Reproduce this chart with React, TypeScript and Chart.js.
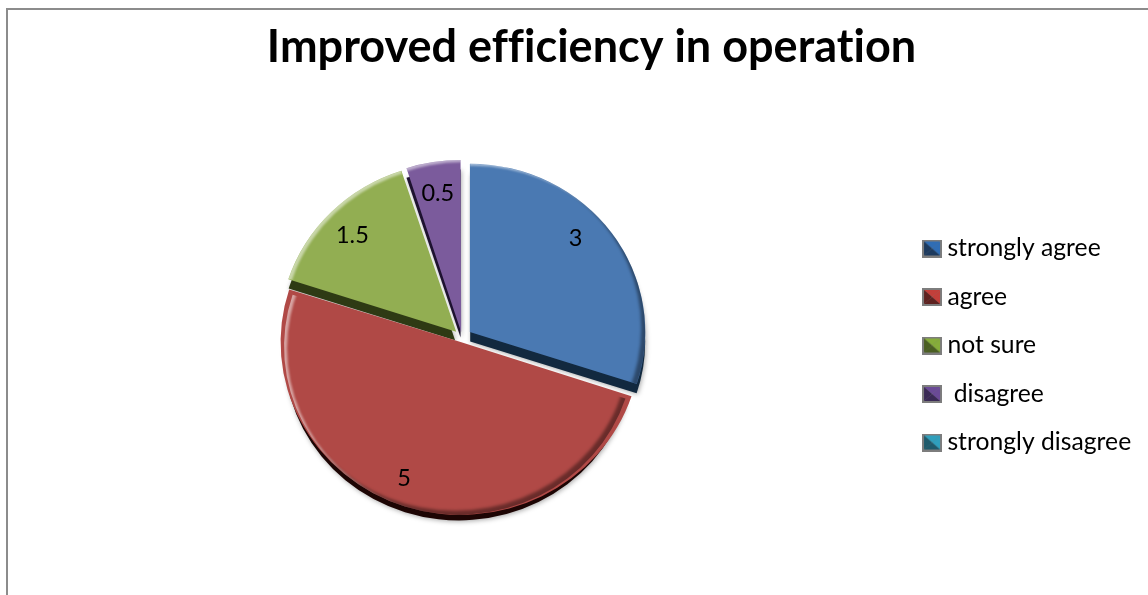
import React, { useEffect, useRef } from "react";
import { Chart, registerables } from "chart.js";

Chart.register(...registerables);

const categories = ["strongly agree", "agree", "not sure", " disagree", "strongly disagree"];
const responses = [3, 5, 1.5, 0.5, 0];
const faceColors = ["#4a79b2", "#b04946", "#92ae52", "#7b5b9c", "#4bacc6"];
const sideColors = ["#12293f", "#1d0504", "#2e3a14", "#1e1230", "#123f4c"];
const swatchLight = ["#2f6db5", "#c23f3a", "#86ad3a", "#6a4a96", "#2fa0bd"];
const swatchDark = ["#1d3a5e", "#5e2220", "#4a5e22", "#3a2a55", "#1f5a6b"];
const chartTitle = "Improved efficiency in operation";

const SLICE_OFFSET = 10;
const SLAB_DEPTH = 10;
const FRONT_SLAB_DEPTH = 6;
const TILT = 0.96;
const SLICE_RADIUS = 175;
const LABEL_RADIUS = 0.83;
const LABEL_DROP = 3;
const LABEL_TURN_DEG = [-7, 4, 0, 0, 0];
const TITLE_SHIFT = 11.5;
const LEGEND_DROP = 44;

// ArcElement displaces a slice by offset / 4 * (2 - sin(circumference)), so invert
// that here to give every slice the same explosion distance.
function explodeOption(value: number) {
  const total = responses.reduce((a, b) => a + b, 0);
  const sweep = (value / total) * Math.PI * 2;
  const fix = 1 - Math.sin(Math.min(Math.PI, sweep));
  return (SLICE_OFFSET * 4) / (1 + fix);
}

function makeSwatch(i: number) {
  const c = document.createElement("canvas");
  c.width = 20;
  c.height = 18;
  const g = c.getContext("2d")!;
  g.fillStyle = "#7d7d7d";
  g.fillRect(0, 0, 20, 18);
  const l = 2, t = 2, r = 18, b = 16, mx = 10, my = 9;
  const tri = (pts: number[], color: string) => {
    g.fillStyle = color;
    g.beginPath();
    g.moveTo(pts[0], pts[1]);
    g.lineTo(pts[2], pts[3]);
    g.lineTo(mx, my);
    g.closePath();
    g.fill();
  };
  tri([l, t, r, t], swatchLight[i]);
  tri([l, t, l, b], swatchDark[i]);
  tri([r, t, r, b], swatchLight[i]);
  tri([l, b, r, b], swatchDark[i]);
  return c;
}

function sliceCentre(arc: any) {
  const mid = (arc.startAngle + arc.endAngle) / 2;
  return { cx: arc.x + Math.cos(mid) * SLICE_OFFSET, cy: arc.y + Math.sin(mid) * SLICE_OFFSET };
}

function sector(ctx: CanvasRenderingContext2D, arc: any, dy = 0) {
  const { cx, cy } = sliceCentre(arc);
  ctx.moveTo(cx, cy + dy);
  ctx.arc(cx, cy + dy, arc.outerRadius, arc.startAngle, arc.endAngle);
  ctx.closePath();
}

function tilt(ctx: CanvasRenderingContext2D, arc: any) {
  ctx.translate(arc.x, arc.y);
  ctx.scale(1, TILT);
  ctx.translate(-arc.x, -arc.y);
}

// Gray frame running off the canvas edges; nudges title and legend into place.
const framePlugin = {
  id: "frame",
  beforeInit(chart: any) {
    chart.ctx.letterSpacing = "0.01px";
  },
  beforeDraw(chart: any) {
    const { ctx, width, height } = chart;
    ctx.letterSpacing = "0.01px";
    ctx.save();
    ctx.strokeStyle = "#8c8c8c";
    ctx.lineWidth = 2;
    ctx.strokeRect(7, 9, width + 20, height + 20);
    ctx.restore();
  },
  afterLayout(chart: any) {
    chart.titleBlock.left += TITLE_SHIFT;
    chart.titleBlock.right += TITLE_SHIFT;
    chart.legend.top += LEGEND_DROP;
    chart.legend.bottom += LEGEND_DROP;
  },
};

// Extruded side walls and soft drop shadow under the slices, bevel on the rims.
const slabPlugin = {
  id: "slab",
  beforeDatasetsDraw(chart: any) {
    const { ctx } = chart;
    const arcs = chart.getDatasetMeta(0).data;
    arcs.forEach((arc: any, i: number) => {
      if (!responses[i]) return;
      ctx.save();
      tilt(ctx, arc);
      ctx.shadowColor = "rgba(0,0,0,0.35)";
      ctx.shadowBlur = 5;
      ctx.shadowOffsetX = 1;
      ctx.shadowOffsetY = 1;
      ctx.fillStyle = sideColors[i];
      ctx.beginPath();
      sector(ctx, arc, i === 1 ? FRONT_SLAB_DEPTH : SLAB_DEPTH);
      ctx.fill();
      ctx.restore();
    });
    ctx.save();
    tilt(ctx, arcs[0]);
  },
  afterDatasetsDraw(chart: any) {
    const { ctx } = chart;
    ctx.restore();
    const arcs = chart.getDatasetMeta(0).data;
    arcs.forEach((arc: any, i: number) => {
      if (!responses[i]) return;
      const rim = (dx: number, dy: number, color: string, blur: number) => {
        const { cx, cy } = sliceCentre(arc);
        ctx.save();
        tilt(ctx, arc);
        ctx.beginPath();
        sector(ctx, arc);
        ctx.clip();
        ctx.filter = `blur(${blur}px)`;
        ctx.fillStyle = color;
        ctx.beginPath();
        ctx.rect(-50, -50, chart.width + 100, chart.height + 100);
        ctx.moveTo(cx + dx + arc.outerRadius, cy + dy);
        ctx.arc(cx + dx, cy + dy, arc.outerRadius, 0, Math.PI * 2);
        ctx.fill("evenodd");
        ctx.restore();
      };
      rim(3, 2, "rgba(255,255,255,0.5)", 1);
      rim(-4, -4, "rgba(0,0,0,0.4)", 1.5);
    });
  },
};

// Slice values printed inside each wedge.
const valueLabelPlugin = {
  id: "valueLabels",
  afterDraw(chart: any) {
    const { ctx } = chart;
    const arcs = chart.getDatasetMeta(0).data;
    ctx.save();
    ctx.font = "23.5px Lato";
    ctx.fillStyle = "#000";
    ctx.textAlign = "center";
    ctx.textBaseline = "middle";
    arcs.forEach((arc: any, i: number) => {
      if (!responses[i]) return;
      const mid = (arc.startAngle + arc.endAngle) / 2 + (LABEL_TURN_DEG[i] * Math.PI) / 180;
      const r = SLICE_OFFSET + arc.outerRadius * LABEL_RADIUS;
      ctx.fillText(String(responses[i]), arc.x + Math.cos(mid) * r, arc.y + Math.sin(mid) * r * TILT + LABEL_DROP);
    });
    ctx.restore();
  },
};

export default function App() {
  const canvasRef = useRef<HTMLCanvasElement>(null);

  useEffect(() => {
    const swatches = categories.map((_, i) => makeSwatch(i));
    const chart = new Chart(canvasRef.current!, {
      type: "pie",
      data: {
        labels: categories,
        datasets: [
          {
            data: responses,
            backgroundColor: faceColors,
            borderWidth: 0,
            offset: responses.map(explodeOption),
            radius: SLICE_RADIUS,
          },
        ],
      },
      options: {
        responsive: false,
        animation: false,
        layout: { padding: { left: 19, right: 7, top: 8, bottom: 0 } },
        plugins: {
          tooltip: { enabled: false },
          title: {
            display: true,
            text: chartTitle,
            color: "#000",
            font: { family: "Lato", size: 45, weight: "bold" },
            padding: { top: 12, bottom: 6 },
          },
          legend: {
            position: "right",
            labels: {
              usePointStyle: true,
              boxWidth: 6,
              color: "#000",
              font: { family: "Lato", size: 24.7 },
              padding: 23.8,
              generateLabels: () =>
                categories.map((text, i) => ({
                  text,
                  pointStyle: swatches[i],
                  fontColor: "#000",
                  lineWidth: 0,
                  hidden: false,
                  index: i,
                })),
            },
          },
        },
      },
      plugins: [framePlugin, slabPlugin, valueLabelPlugin],
    } as any);
    return () => chart.destroy();
  }, []);

  return (
    <div style={{ position: "fixed", left: 0, top: 0, width: 1148, height: 595, overflow: "hidden", background: "#fff" }}>
      <canvas ref={canvasRef} width={1148} height={595} style={{ display: "block" }} />
    </div>
  );
}
